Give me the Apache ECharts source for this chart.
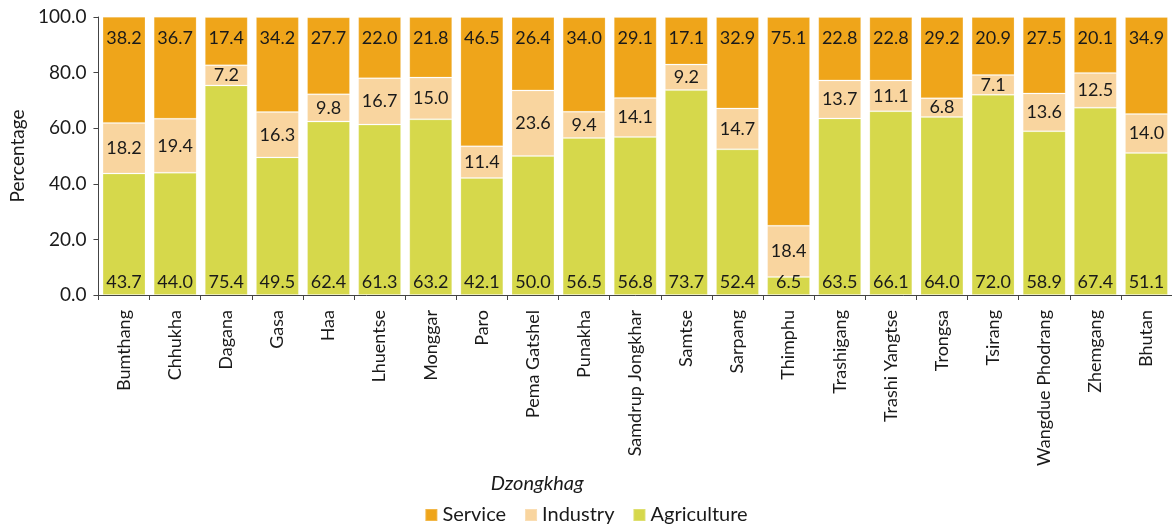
<!DOCTYPE html>
<html>
<head>
<meta charset="utf-8">
<script src="https://cdn.jsdelivr.net/npm/echarts@6/dist/echarts.min.js"></script>
<style>
  html, body { margin: 0; padding: 0; background: #fff; }
  #chart { width: 1172px; height: 528px; }
</style>
</head>
<body>
<div id="chart"></div>
<script>
const dzongkhags = ['Bumthang', 'Chhukha', 'Dagana', 'Gasa', 'Haa', 'Lhuentse', 'Monggar', 'Paro',
  'Pema Gatshel', 'Punakha', 'Samdrup Jongkhar', 'Samtse', 'Sarpang', 'Thimphu', 'Trashigang',
  'Trashi Yangtse', 'Trongsa', 'Tsirang', 'Wangdue Phodrang', 'Zhemgang', 'Bhutan']
const agriculture = [43.7, 44.0, 75.4, 49.5, 62.4, 61.3, 63.2, 42.1, 50.0, 56.5, 56.8, 73.7, 52.4, 6.5, 63.5, 66.1, 64.0, 72.0, 58.9, 67.4, 51.1]
const industry = [18.2, 19.4, 7.2, 16.3, 9.8, 16.7, 15.0, 11.4, 23.6, 9.4, 14.1, 9.2, 14.7, 18.4, 13.7, 11.1, 6.8, 7.1, 13.6, 12.5, 14.0]
const service = [38.2, 36.7, 17.4, 34.2, 27.7, 22.0, 21.8, 46.5, 26.4, 34.0, 29.1, 17.1, 32.9, 75.1, 22.8, 22.8, 29.2, 20.9, 27.5, 20.1, 34.9]

const FONT = 'Lato'
const TEXT = '#1a1a1a'

function seg(name, data, color, pos, dist) {
  return {
    name,
    type: 'bar',
    stack: 'total',
    data,
    barCategoryGap: '16%',
    itemStyle: { color, borderColor: 'rgba(255,255,255,0.2)', borderWidth: 1 },
    label: {
      show: true,
      position: pos,
      distance: dist,
      color: TEXT,
      fontFamily: FONT,
      fontSize: 18,
      formatter: (p) => p.value.toFixed(1),
    },
  }
}

const chart = echarts.init(document.getElementById('chart'))
chart.setOption({
  animation: false,
  backgroundColor: '#fff',
  grid: { left: 96, right: 0, top: 17, bottom: 233 },
  legend: {
    top: 500,
    left: 'center',
    icon: 'rect',
    itemWidth: 12,
    itemHeight: 12,
    itemGap: 18,
    textStyle: { color: TEXT, fontFamily: FONT, fontSize: 20 },
    data: ['Service', 'Industry', 'Agriculture'],
  },
  xAxis: {
    type: 'category',
    data: dzongkhags,
    name: 'Dzongkhag',
    nameLocation: 'middle',
    nameGap: 157,
    nameTextStyle: { color: TEXT, fontFamily: FONT, fontSize: 20, fontStyle: 'italic', padding: [0, 196, 0, 0] },
    axisLine: { lineStyle: { color: '#444' } },
    axisTick: { show: true, length: 5, lineStyle: { color: '#444' } },
    axisLabel: { rotate: 90, margin: 15, color: TEXT, fontFamily: FONT, fontSize: 18, interval: 0 },
  },
  yAxis: {
    type: 'value',
    min: 0,
    max: 100,
    interval: 20,
    name: 'Percentage',
    nameLocation: 'middle',
    nameGap: 70,
    nameTextStyle: { color: TEXT, fontFamily: FONT, fontSize: 19 },
    axisLine: { show: true, lineStyle: { color: '#444' } },
    axisTick: { show: true, length: 5, lineStyle: { color: '#444' } },
    axisLabel: { color: TEXT, fontFamily: FONT, fontSize: 19, margin: 12, formatter: (v) => v.toFixed(1) },
    splitLine: { show: false },
  },
  series: [
    seg('Agriculture', agriculture, '#D6D84B', 'insideBottom', 4),
    seg('Industry', industry, '#F9D59F', 'inside', 5),
    seg('Service', service, '#EFA51A', 'insideTop', 12),
  ],
})
</script>
</body>
</html>
